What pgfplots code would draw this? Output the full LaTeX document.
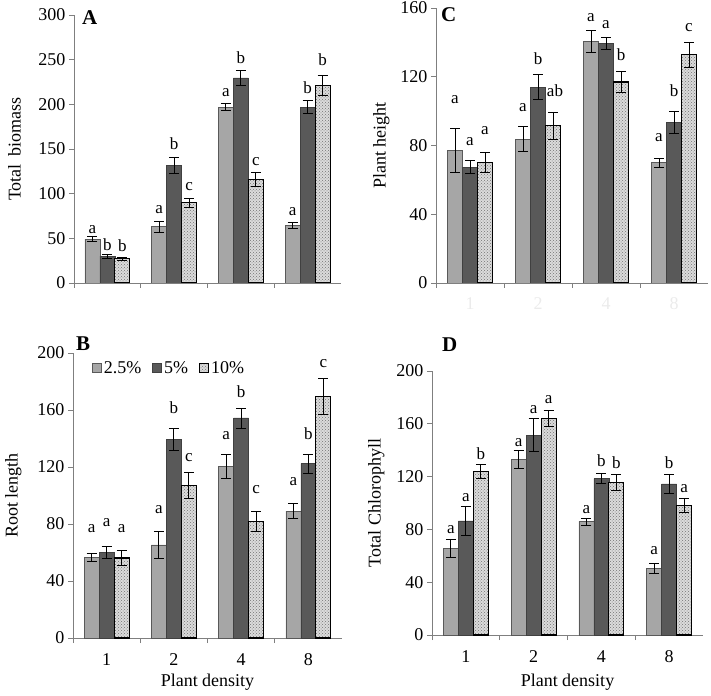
\documentclass[border=0pt]{standalone}
\usepackage{fontspec}
\setmainfont{Liberation Serif}
\usepackage{pgfplots}
\pgfplotsset{compat=1.18}
\usetikzlibrary{patterns}
\definecolor{cA}{HTML}{A6A6A6}
\definecolor{cB}{HTML}{595959}
\definecolor{axc}{HTML}{7F7F7F}
\newcommand{\tfont}{\fontsize{18}{21}\selectfont}
\newcommand{\lfont}{\fontsize{17}{20}\selectfont}
\newcommand{\lab}[3]{\node[anchor=base, font=\lfont, inner sep=0pt, xshift=#1] at (axis cs:#2) {#3};}
\pgfplotsset{
  panel/.style={
    scale only axis,
    ybar=0pt, bar width=15pt,
    xmin=-0.5, xmax=3.5, ymin=0,
    axis x line*=bottom, axis y line*=left,
    axis line style={axc, -, line width=0.8pt},
    xtick={-0.5,0.5,1.5,2.5}, xticklabels={},
    extra x ticks={0,1,2,3}, extra x tick labels={1,2,4,8},
    extra x tick style={major tick length=0pt, tick label style={anchor=base, yshift=-27pt}},
    tick align=outside, major tick length=5pt,
    tick style={axc, line width=0.8pt},
    ticklabel style={font=\tfont},
    /pgf/number format/assume math mode=true,
    every axis y label/.style={at={(axis description cs:0,0.5)}, rotate=90, anchor=north, inner sep=0pt, font=\tfont},
    every axis x label/.style={at={(axis description cs:0.5,0)}, anchor=base, inner sep=0pt, font=\tfont},
    anchor=south west,
    error bars/y dir=both, error bars/y explicit,
    error bars/error bar style={black, line width=0.8pt, solid},
    error bars/error mark options={rotate=90, mark size=5pt, black, line width=0.8pt},
    legend image code/.code={\draw[#1] (0pt,-4pt) rectangle (9pt,5pt);},
  },
  s1/.style={fill=cA, draw=black!65, line width=0.6pt},
  s2/.style={fill=cB, draw=black!75, line width=0.6pt},
  s3/.style={fill=black!14, draw=black, line width=1.2pt, postaction={pattern=crosshatch dots, pattern color=black!55}},
}
\begin{document}
\begin{tikzpicture}
\path[use as bounding box] (0,0) rectangle (711pt,695pt);

% ---------- A ----------
\begin{axis}[panel, at={(74pt,412pt)}, width=267pt, height=268pt,
  ymax=300, ytick={0,50,...,300}, ylabel={Total\hspace{0.45em}biomass},
  ylabel style={yshift=66pt},
  extra x tick labels={}]
\addplot[s1] coordinates {(0,49)+-(0,3) (1,63)+-(0,6.5) (2,197)+-(0,4) (3,64.5)+-(0,3.5)};
\addplot[s2] coordinates {(0,30)+-(0,2) (1,132)+-(0,9) (2,229.5)+-(0,8.5) (3,197)+-(0,7.5)};
\addplot[s3] coordinates {(0,27)+-(0,1.5) (1,90)+-(0,5) (2,116)+-(0,7.5) (3,221)+-(0,11)};
\lab{-15pt}{0,55.6}{a}\lab{0pt}{0,36.2}{b}\lab{15pt}{0,35}{b}
\lab{-15pt}{1,78}{a}\lab{0pt}{1,149.6}{b}\lab{15pt}{1,103.4}{c}
\lab{-15pt}{2,209}{a}\lab{0pt}{2,246}{b}\lab{15pt}{2,132}{c}
\lab{-15pt}{3,75.4}{a}\lab{0pt}{3,211.6}{b}\lab{15pt}{3,244}{b}
\end{axis}
\node[anchor=base west, font=\fontsize{21}{24}\selectfont\bfseries, inner sep=0pt] at (82pt,670pt) {A};

% ---------- C ----------
\begin{axis}[panel, at={(436pt,412pt)}, width=272pt, height=275pt,
  ymax=160, ytick={0,40,...,160}, ylabel={Plant height},
  ylabel style={yshift=63pt},
  extra x tick style={tick label style={text=black!8}}]
\addplot[s1] coordinates {(0,77)+-(0,12.8) (1,83.7)+-(0,7.3) (2,140.6)+-(0,6.4) (3,70)+-(0,2.7)};
\addplot[s2] coordinates {(0,67.4)+-(0,3.7) (1,114)+-(0,7.3) (2,139.4)+-(0,3.7) (3,93.6)+-(0,6.4)};
\addplot[s3] coordinates {(0,70)+-(0,5.7) (1,91.5)+-(0,8) (2,116.9)+-(0,6) (3,132.8)+-(0,7.2)};
\lab{-15pt}{0,104.7}{a}\lab{0pt}{0,80}{a}\lab{15pt}{0,86.2}{a}
\lab{-15pt}{1,100}{a}\lab{0pt}{1,127}{b}\lab{17pt}{1,108.5}{ab}
\lab{-15pt}{2,152.2}{a}\lab{0pt}{2,148}{a}\lab{15pt}{2,129.5}{b}
\lab{-15pt}{3,82.3}{a}\lab{0pt}{3,108.5}{b}\lab{15pt}{3,146.4}{c}
\end{axis}
\node[anchor=base west, font=\fontsize{21}{24}\selectfont\bfseries, inner sep=0pt] at (441pt,673pt) {C};

% ---------- B ----------
\begin{axis}[panel, at={(73pt,57pt)}, width=269pt, height=285pt,
  ymax=200, ytick={0,40,...,200}, ylabel={Root length}, xlabel={Plant density},
  ylabel style={yshift=68pt}, xlabel style={yshift=-48pt},
  legend style={draw=none, fill=none, at={(0.06,0.985)}, anchor=north west,
    font=\tfont, legend columns=3,
    /tikz/every even column/.append style={column sep=9pt}},
  legend cell align=left]
\addplot[s1] coordinates {(0,56.6)+-(0,2.8) (1,65.3)+-(0,9.6) (2,120.5)+-(0,8.4) (3,89.1)+-(0,5.5)};
\addplot[s2] coordinates {(0,60.1)+-(0,4.2) (1,139.2)+-(0,7.6) (2,154.4)+-(0,7) (3,122.3)+-(0,6.7)};
\addplot[s3] coordinates {(0,56.1)+-(0,5.5) (1,106.9)+-(0,9) (2,81.9)+-(0,6.8) (3,169.6)+-(0,12.4)};
\legend{2.5\%,5\%,10\%}
\lab{-15pt}{0,73.7}{a}\lab{0pt}{0,77.9}{a}\lab{15pt}{0,73.7}{a}
\lab{-15pt}{1,87.7}{a}\lab{0pt}{1,157.4}{b}\lab{15pt}{1,124}{c}
\lab{-15pt}{2,139.2}{a}\lab{0pt}{2,169.1}{b}\lab{15pt}{2,101.3}{c}
\lab{-15pt}{3,107.1}{a}\lab{0pt}{3,139.6}{b}\lab{15pt}{3,189.5}{c}
\end{axis}
\node[anchor=base west, font=\fontsize{21}{24}\selectfont\bfseries, inner sep=0pt] at (76pt,344pt) {B};

% ---------- D ----------
\begin{axis}[panel, at={(432pt,60pt)}, width=271pt, height=264pt,
  ymax=200, ytick={0,40,...,200}, ylabel={Total Chlorophyll}, xlabel={Plant density},
  ylabel style={yshift=64pt}, xlabel style={yshift=-51pt}]
\addplot[s1] coordinates {(0,65.8)+-(0,7) (1,132.9)+-(0,6.8) (2,86)+-(0,2.6) (3,50.4)+-(0,3.9)};
\addplot[s2] coordinates {(0,86.5)+-(0,11) (1,151.5)+-(0,12.7) (2,118.5)+-(0,4) (3,114.5)+-(0,7.3)};
\addplot[s3] coordinates {(0,124.1)+-(0,5.3) (1,164.1)+-(0,6.2) (2,115.5)+-(0,6) (3,98.1)+-(0,5.4)};
\lab{-15pt}{0,77.2}{a}\lab{0pt}{0,101.1}{a}\lab{15pt}{0,132.7}{b}
\lab{-15pt}{1,142.8}{a}\lab{0pt}{1,168}{a}\lab{15pt}{1,175}{a}
\lab{-15pt}{2,92.3}{a}\lab{0pt}{2,127.6}{b}\lab{15pt}{2,125.9}{b}
\lab{-15pt}{3,60.8}{a}\lab{0pt}{3,125.9}{b}\lab{15pt}{3,108}{a}
\end{axis}
\node[anchor=base west, font=\fontsize{21}{24}\selectfont\bfseries, inner sep=0pt] at (442pt,343pt) {D};
\end{tikzpicture}
\end{document}
